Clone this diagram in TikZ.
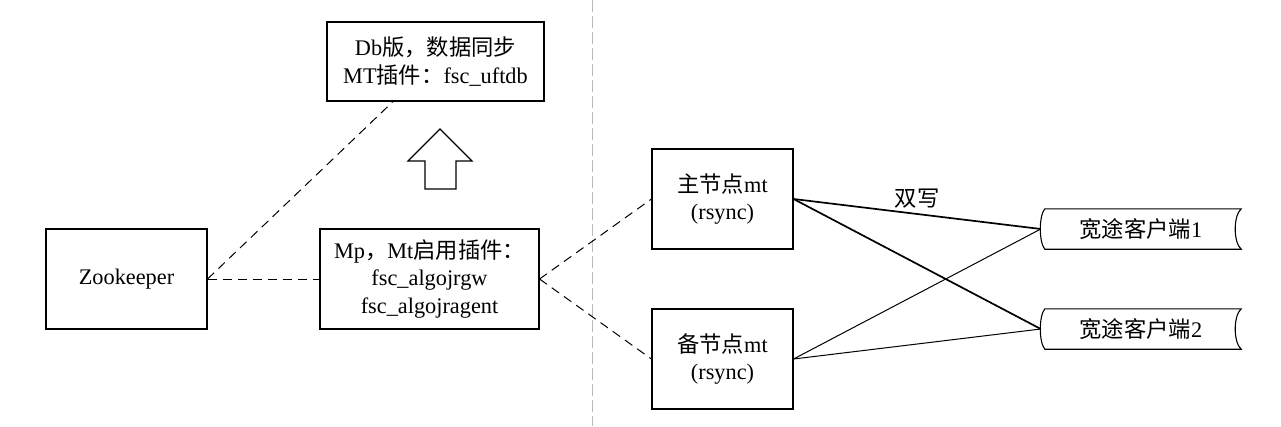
\documentclass[tikz,border=0pt]{standalone}
\usepackage{fontspec}
\setmainfont{Liberation Serif}
\newfontfamily\cjk{Noto Sans CJK SC}
\newcommand\zh[1]{{\cjk #1}}
\begin{document}
\begin{tikzpicture}[x=1pt,y=-1pt,
  box/.style={draw, line width=1.1pt, align=center, inner sep=0pt,
    font=\fontsize{22.3}{27.5}\selectfont},
  client/.style={inner sep=0pt, minimum width=200pt, minimum height=40pt,
    font=\fontsize{22.3}{27.5}\selectfont},
  link/.style={line width=1pt, dashed, dash pattern=on 9pt off 6pt},
  strong/.style={line width=1.7pt},
  weak/.style={line width=1pt},
  sep/.style={line width=0.8pt, draw={rgb,255:red,185;green,185;blue,185}, dash pattern=on 12pt off 4pt}]
\useasboundingbox (0,0) rectangle (1281,426);
\draw[sep] (592,0) -- (592,426);

\node[box, minimum width=217pt, minimum height=79pt] (db) at (435.5,61.5)
  {Db\zh{版，数据同步}\\MT\zh{插件：}fsc\_uftdb};
\node[box, minimum width=161pt, minimum height=100pt] (zk) at (126.5,279) {Zookeeper};
\node[box, minimum width=219pt, minimum height=100pt] (mp) at (429.5,279)
  {Mp\zh{，}Mt\zh{启用插件：}\\fsc\_algojrgw\\fsc\_algojragent};
\node[box, minimum width=141pt, minimum height=100pt] (main) at (722.5,199)
  {\zh{主节点}mt\\(rsync)};
\node[box, minimum width=141pt, minimum height=100pt] (back) at (722.5,359)
  {\zh{备节点}mt\\(rsync)};
\node[client] (c1) at (1141,229) {\zh{宽途客户端}1};
\node[client] (c2) at (1141,329) {\zh{宽途客户端}2};

\foreach \c in {c1,c2}{
  \draw[line width=1.1pt] ([xshift=4pt]\c.north west) -- (\c.north east)
    .. controls ([xshift=-8pt,yshift=-7pt]\c.north east) and ([xshift=-8pt,yshift=7pt]\c.south east) .. (\c.south east)
    -- ([xshift=4pt]\c.south west)
    .. controls ([xshift=-2pt,yshift=7pt]\c.south west) and ([xshift=-2pt,yshift=-7pt]\c.north west) .. ([xshift=4pt]\c.north west)
    -- cycle;
}

% up arrow
\draw[line width=1.1pt, line join=miter] (440,129) -- (472,161) -- (456,161) -- (456,189)
  -- (425,189) -- (425,161) -- (408,161) -- cycle;

\draw[link] (zk.east) -- (mp.west);
\draw[link] (zk.east) -- ([xshift=-42.5pt]db.south);
\draw[link] (mp.east) -- (main.west);
\draw[link] (mp.east) -- (back.west);

\draw[strong] (main.east) -- node[midway, above=5pt, font=\fontsize{22.3}{27.5}\selectfont, inner sep=0pt] {\zh{双写}} (c1.west);
\draw[strong] (main.east) -- (c2.west);
\draw[weak] (back.east) -- (c1.west);
\draw[weak] (back.east) -- (c2.west);
\end{tikzpicture}
\end{document}
